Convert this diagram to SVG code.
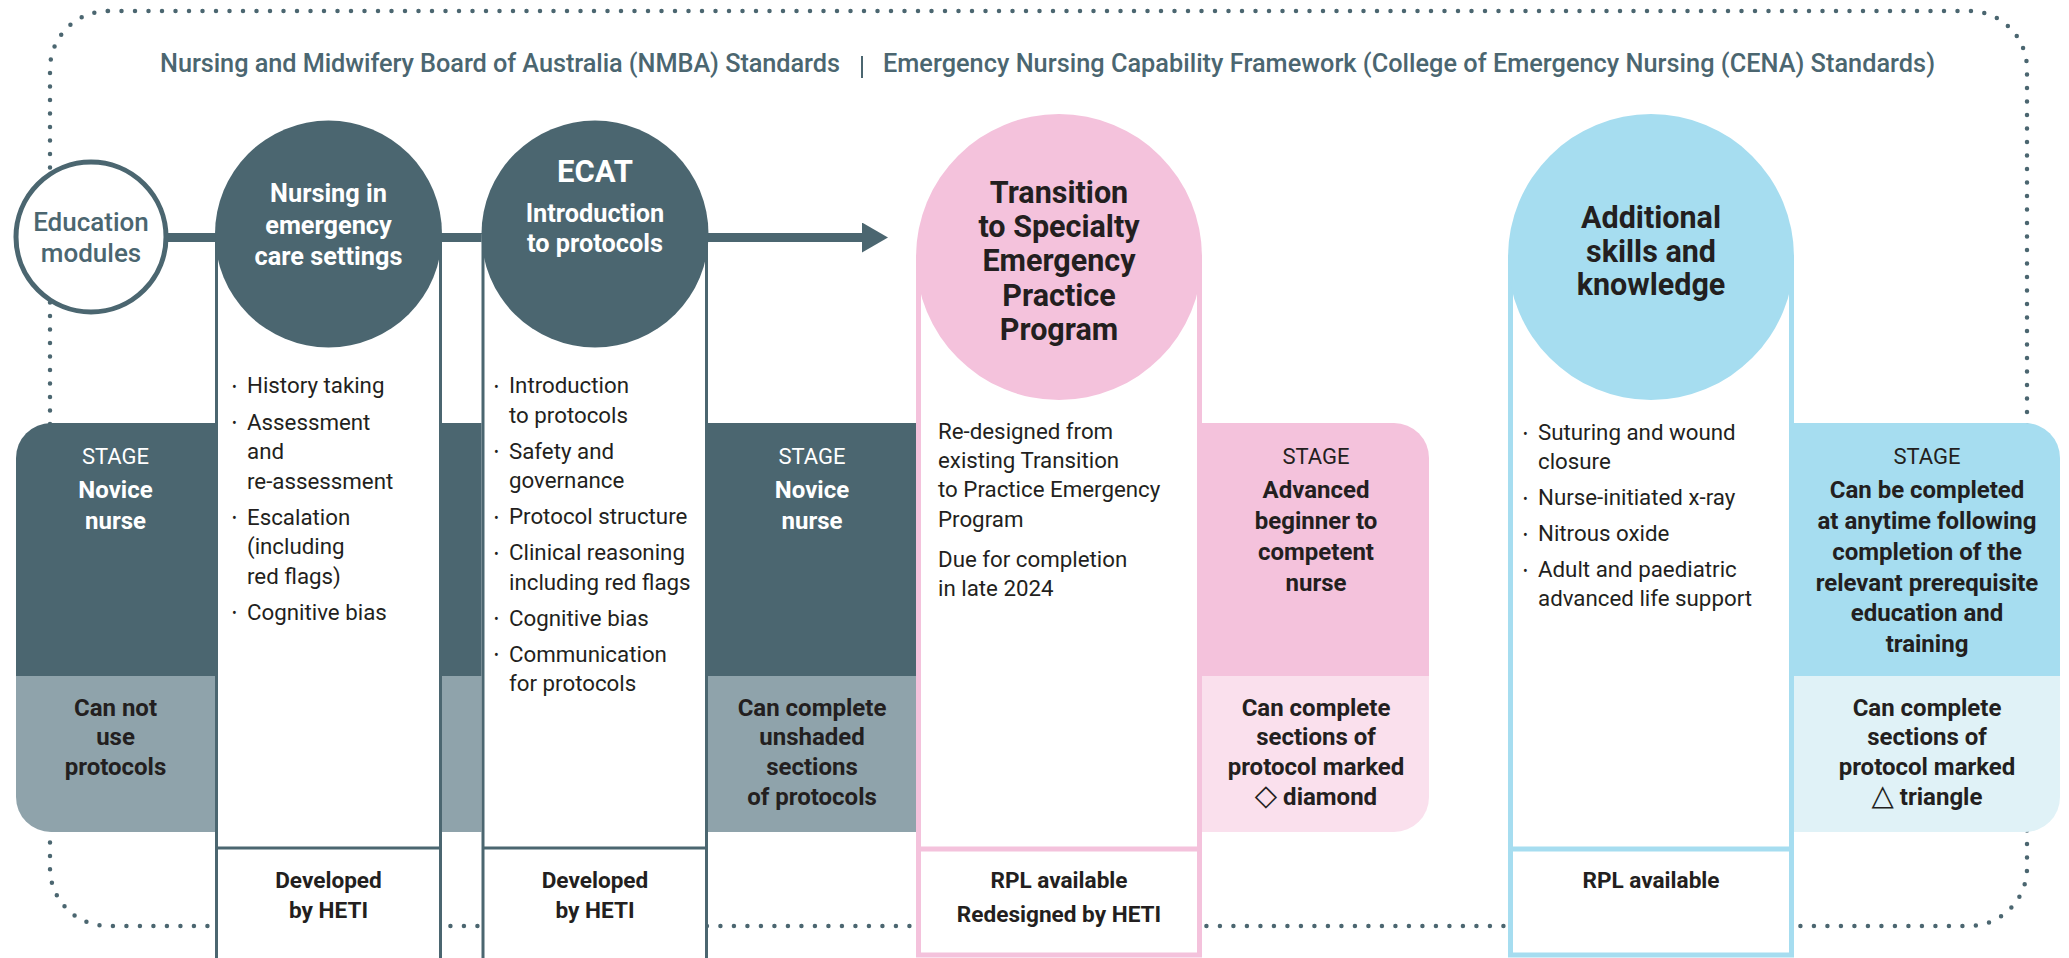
<svg xmlns="http://www.w3.org/2000/svg" width="2069" height="958" viewBox="0 0 2069 958">
<style>
text{font-family:Roboto,"Liberation Sans",sans-serif;}
.title{font-size:25.3px;font-weight:500;fill:#4b6670;}
.wb{font-size:25.3px;font-weight:700;fill:#ffffff;text-anchor:middle;}
.db{font-size:30.5px;font-weight:700;fill:#231f20;text-anchor:middle;}
.edu{font-size:26px;font-weight:500;fill:#4b6670;text-anchor:middle;}
.bul{font-size:22.3px;font-weight:400;fill:#231f20;}
.dot{font-size:14px;fill:#231f20;}
.stg{font-size:22px;font-weight:400;text-anchor:middle;}
.sb{font-size:24px;font-weight:700;text-anchor:middle;}
.sm{font-size:24px;font-weight:700;text-anchor:middle;fill:#231f20;}
.sym{font-family:"DejaVu Sans",sans-serif;font-size:29px;font-weight:400;}
.bot{font-size:22.6px;font-weight:700;fill:#231f20;text-anchor:middle;}
.w{fill:#ffffff;}
.k{fill:#231f20;}
.slate{stroke:#4b6670;stroke-width:3;fill:none;}
.pinkS{stroke:#f4c2dc;stroke-width:5;fill:none;}
.blueS{stroke:#a6ddf0;stroke-width:5;fill:none;}
</style>
<defs>
<marker id="ah" markerWidth="26" markerHeight="30" refX="0" refY="15" orient="auto" markerUnits="userSpaceOnUse">
<path d="M0,0 L26,15 L0,30 Z" fill="#4b6670"/>
</marker>
</defs>
<rect width="2069" height="958" fill="#ffffff"/>

<!-- dotted frame -->
<rect id="frame" x="50" y="11" width="1977" height="915" rx="58" ry="58" fill="none" stroke="#4b6670" stroke-width="4.5" stroke-linecap="round" stroke-dasharray="0 13.5"/>

<!-- stage bands -->
<g id="band-slate">
<path d="M51,423 H916 V676 H16 V458 A35,35 0 0 1 51,423 Z" fill="#4b6670"/>
<path d="M16,676 H916 V832 H51 A35,35 0 0 1 16,797 Z" fill="#8fa3ab"/>
</g>
<g id="band-pink">
<path d="M1202,423 H1394 A35,35 0 0 1 1429,458 V676 H1202 Z" fill="#f4c2dc"/>
<path d="M1202,676 H1429 V797 A35,35 0 0 1 1394,832 H1202 Z" fill="#fae0ed"/>
</g>
<g id="band-blue">
<path d="M1794,423 H2025 A35,35 0 0 1 2060,458 V676 H1794 Z" fill="#a6ddf0"/>
<path d="M1794,676 H2060 V797 A35,35 0 0 1 2025,832 H1794 Z" fill="#e0f2f7"/>
</g>

<!-- connectors -->
<g id="connectors">
<line x1="160" y1="237.5" x2="862" y2="237.5" stroke="#4b6670" stroke-width="9" marker-end="url(#ah)"/>
</g>

<!-- column 1 -->
<g id="col-nursing">
<rect x="215" y="234" width="227" height="730" fill="#ffffff"/>
<path class="slate" d="M216.5,234 V962 M440.5,234 V962 M215,848 H442"/>
<circle cx="328.5" cy="234" r="113.5" fill="#4b6670"/>
<text class="wb" x="328.5" y="202">Nursing in</text>
<text class="wb" x="328.5" y="233.5">emergency</text>
<text class="wb" x="328.5" y="265">care settings</text>
<text class="dot" x="232" y="392">•</text><text class="bul" x="247" y="393">History taking</text>
<text class="dot" x="232" y="428">•</text><text class="bul" x="247" y="429.5">Assessment</text>
<text class="bul" x="247" y="459">and</text>
<text class="bul" x="247" y="488.5">re-assessment</text>
<text class="dot" x="232" y="523">•</text><text class="bul" x="247" y="524.5">Escalation</text>
<text class="bul" x="247" y="554">(including</text>
<text class="bul" x="247" y="583.5">red flags)</text>
<text class="dot" x="232" y="618">•</text><text class="bul" x="247" y="619.5">Cognitive bias</text>
<text class="bot" x="328.5" y="888">Developed</text>
<text class="bot" x="328.5" y="918">by HETI</text>
</g>

<!-- column 2 -->
<g id="col-ecat">
<rect x="481.5" y="234" width="226.5" height="730" fill="#ffffff"/>
<path class="slate" d="M483,234 V962 M706.5,234 V962 M481.5,848 H708"/>
<circle cx="595" cy="234" r="113.5" fill="#4b6670"/>
<text class="wb" x="595" y="182" style="font-size:31px">ECAT</text>
<text class="wb" x="595" y="222">Introduction</text>
<text class="wb" x="595" y="252">to protocols</text>
<text class="dot" x="494" y="392">•</text><text class="bul" x="509" y="393">Introduction</text>
<text class="bul" x="509" y="422.5">to protocols</text>
<text class="dot" x="494" y="457">•</text><text class="bul" x="509" y="458.5">Safety and</text>
<text class="bul" x="509" y="488">governance</text>
<text class="dot" x="494" y="523">•</text><text class="bul" x="509" y="524">Protocol structure</text>
<text class="dot" x="494" y="559">•</text><text class="bul" x="509" y="560">Clinical reasoning</text>
<text class="bul" x="509" y="589.5">including red flags</text>
<text class="dot" x="494" y="624">•</text><text class="bul" x="509" y="625.5">Cognitive bias</text>
<text class="dot" x="494" y="660">•</text><text class="bul" x="509" y="661.5">Communication</text>
<text class="bul" x="509" y="691">for protocols</text>
<text class="bot" x="595" y="888">Developed</text>
<text class="bot" x="595" y="918">by HETI</text>
</g>

<!-- column 3 pink -->
<g id="col-transition">
<rect x="916" y="257" width="286" height="698" fill="#ffffff"/>
<path class="pinkS" d="M918.5,257 V955 H1199.5 V257 M916,849 H1202"/>
<circle cx="1059" cy="257" r="143" fill="#f4c2dc"/>
<text class="db" x="1059" y="203">Transition</text>
<text class="db" x="1059" y="237">to Specialty</text>
<text class="db" x="1059" y="271">Emergency</text>
<text class="db" x="1059" y="306">Practice</text>
<text class="db" x="1059" y="340">Program</text>
<text class="bul" x="938" y="439">Re-designed from</text>
<text class="bul" x="938" y="468">existing Transition</text>
<text class="bul" x="938" y="497">to Practice Emergency</text>
<text class="bul" x="938" y="527">Program</text>
<text class="bul" x="938" y="567">Due for completion</text>
<text class="bul" x="938" y="596">in late 2024</text>
<text class="bot" x="1059" y="888">RPL available</text>
<text class="bot" x="1059" y="922">Redesigned by HETI</text>
</g>

<!-- column 4 blue -->
<g id="col-additional">
<rect x="1508" y="257" width="286" height="698" fill="#ffffff"/>
<path class="blueS" d="M1510.5,257 V955 H1791.5 V257 M1508,849 H1794"/>
<circle cx="1651" cy="257" r="143" fill="#a6ddf0"/>
<text class="db" x="1651" y="228">Additional</text>
<text class="db" x="1651" y="261.5">skills and</text>
<text class="db" x="1651" y="295">knowledge</text>
<text class="dot" x="1523" y="439">•</text><text class="bul" x="1538" y="440">Suturing and wound</text>
<text class="bul" x="1538" y="469">closure</text>
<text class="dot" x="1523" y="504">•</text><text class="bul" x="1538" y="505">Nurse-initiated x-ray</text>
<text class="dot" x="1523" y="540">•</text><text class="bul" x="1538" y="541">Nitrous oxide</text>
<text class="dot" x="1523" y="576">•</text><text class="bul" x="1538" y="577">Adult and paediatric</text>
<text class="bul" x="1538" y="606">advanced life support</text>
<text class="bot" x="1651" y="888">RPL available</text>
</g>

<!-- education modules -->
<g id="education">
<circle cx="91" cy="237" r="75" fill="#ffffff" stroke="#4b6670" stroke-width="5"/>
<text class="edu" x="91" y="231">Education</text>
<text class="edu" x="91" y="262">modules</text>
</g>

<!-- stage labels -->
<g id="stage-1">
<text class="stg w" x="115.5" y="464">STAGE</text>
<text class="sb w" x="115.5" y="498">Novice</text>
<text class="sb w" x="115.5" y="529">nurse</text>
<text class="sm" x="115.5" y="716">Can not</text>
<text class="sm" x="115.5" y="745">use</text>
<text class="sm" x="115.5" y="775">protocols</text>
</g>
<g id="stage-2">
<text class="stg w" x="812" y="464">STAGE</text>
<text class="sb w" x="812" y="498">Novice</text>
<text class="sb w" x="812" y="529">nurse</text>
<text class="sm" x="812" y="716">Can complete</text>
<text class="sm" x="812" y="745">unshaded</text>
<text class="sm" x="812" y="775">sections</text>
<text class="sm" x="812" y="805">of protocols</text>
</g>
<g id="stage-3">
<text class="stg k" x="1316" y="464">STAGE</text>
<text class="sb k" x="1316" y="498">Advanced</text>
<text class="sb k" x="1316" y="529">beginner to</text>
<text class="sb k" x="1316" y="560">competent</text>
<text class="sb k" x="1316" y="591">nurse</text>
<text class="sm" x="1316" y="716">Can complete</text>
<text class="sm" x="1316" y="745">sections of</text>
<text class="sm" x="1316" y="775">protocol marked</text>
<text class="sm" x="1316" y="805"><tspan class="sym">◇</tspan> diamond</text>
</g>
<g id="stage-4">
<text class="stg k" x="1927" y="464">STAGE</text>
<text class="sb k" x="1927" y="498">Can be completed</text>
<text class="sb k" x="1927" y="529">at anytime following</text>
<text class="sb k" x="1927" y="560">completion of the</text>
<text class="sb k" x="1927" y="591">relevant prerequisite</text>
<text class="sb k" x="1927" y="621">education and</text>
<text class="sb k" x="1927" y="652">training</text>
<text class="sm" x="1927" y="716">Can complete</text>
<text class="sm" x="1927" y="745">sections of</text>
<text class="sm" x="1927" y="775">protocol marked</text>
<text class="sm" x="1927" y="805"><tspan class="sym">△</tspan> triangle</text>
</g>

<!-- header -->
<g id="header">
<text class="title" x="160" y="72" textLength="680" lengthAdjust="spacing">Nursing and Midwifery Board of Australia (NMBA) Standards</text>
<line x1="862" y1="56" x2="862" y2="78" stroke="#4b6670" stroke-width="2"/>
<text class="title" x="883" y="72" textLength="1052" lengthAdjust="spacing">Emergency Nursing Capability Framework (College of Emergency Nursing (CENA) Standards)</text>
</g>
</svg>
